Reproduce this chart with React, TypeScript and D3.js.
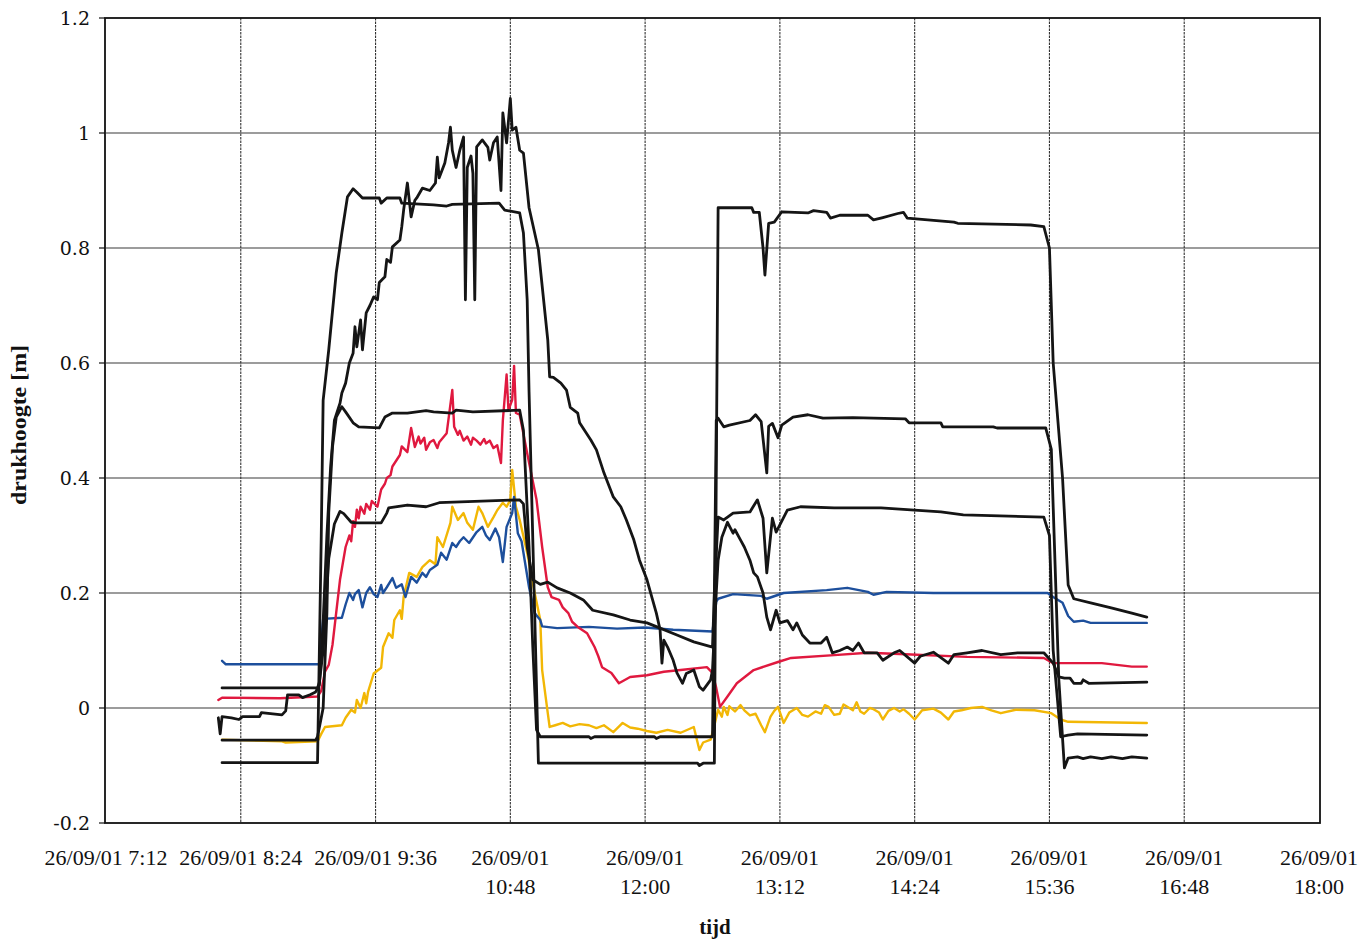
import * as d3 from 'd3';

type Pt = [string, number];

// x axis: one tick every 72 minutes
const tickTimes = ['7:12', '8:24', '9:36', '10:48', '12:00', '13:12', '14:24', '15:36', '16:48', '18:00'];
const tickDate = '26/09/01';
const yTicks = [-0.2, 0, 0.2, 0.4, 0.6, 0.8, 1, 1.2];

const blueSeries: Pt[] = [
  ['8:14', 0.082], ['8:16', 0.076], ['9:06', 0.076], ['9:08', 0.155], ['9:18', 0.157], ['9:20', 0.18],
  ['9:22', 0.2], ['9:24', 0.188], ['9:25', 0.198], ['9:27', 0.205], ['9:29', 0.175], ['9:31', 0.2], ['9:33', 0.21],
  ['9:35', 0.198], ['9:37', 0.193], ['9:39', 0.214], ['9:40', 0.2], ['9:42', 0.21], ['9:45', 0.226], ['9:47', 0.209],
  ['9:50', 0.215], ['9:52', 0.193], ['9:55', 0.228], ['9:58', 0.218], ['10:01', 0.235], ['10:03', 0.228],
  ['10:05', 0.24], ['10:09', 0.249], ['10:11', 0.27], ['10:14', 0.258], ['10:17', 0.287], ['10:19', 0.28],
  ['10:21', 0.29], ['10:23', 0.297], ['10:26', 0.287], ['10:30', 0.306], ['10:33', 0.315], ['10:35', 0.3],
  ['10:37', 0.292], ['10:40', 0.312], ['10:42', 0.297], ['10:44', 0.254], ['10:46', 0.315], ['10:49', 0.339],
  ['10:50', 0.367], ['10:52', 0.304], ['10:54', 0.29], ['10:58', 0.21], ['11:01', 0.165], ['11:04', 0.153],
  ['11:05', 0.142], ['11:13', 0.139], ['11:30', 0.141], ['11:45', 0.138], ['12:00', 0.14], ['12:15', 0.136],
  ['12:36', 0.133], ['12:38', 0.185], ['12:39', 0.19], ['12:47', 0.198], ['13:02', 0.195], ['13:05', 0.19],
  ['13:14', 0.2], ['13:37', 0.205], ['13:48', 0.209], ['13:59', 0.202], ['14:02', 0.197], ['14:09', 0.202],
  ['14:34', 0.2], ['15:35', 0.2], ['15:38', 0.193], ['15:43', 0.183], ['15:46', 0.16], ['15:49', 0.15],
  ['15:54', 0.152], ['15:58', 0.148], ['16:28', 0.148],
];

const redSeries: Pt[] = [
  ['8:12', 0.014], ['8:14', 0.018], ['8:45', 0.017], ['9:05', 0.02], ['9:07', 0.03], ['9:09', 0.063],
  ['9:11', 0.075], ['9:13', 0.11], ['9:17', 0.223], ['9:20', 0.28], ['9:22', 0.3], ['9:23', 0.29],
  ['9:24', 0.325], ['9:25', 0.315], ['9:26', 0.345], ['9:27', 0.33], ['9:28', 0.35], ['9:30', 0.338],
  ['9:31', 0.355], ['9:33', 0.345], ['9:34', 0.36], ['9:37', 0.35], ['9:39', 0.38], ['9:41', 0.39],
  ['9:42', 0.4], ['9:44', 0.405], ['9:45', 0.42], ['9:47', 0.43], ['9:49', 0.44], ['9:50', 0.455],
  ['9:53', 0.445], ['9:55', 0.487], ['9:57', 0.454], ['9:59', 0.472], ['10:00', 0.46], ['10:02', 0.47],
  ['10:03', 0.449], ['10:05', 0.462], ['10:07', 0.466], ['10:09', 0.452], ['10:10', 0.462], ['10:12', 0.47],
  ['10:14', 0.478], ['10:17', 0.553], ['10:18', 0.489], ['10:20', 0.475], ['10:21', 0.482], ['10:23', 0.465],
  ['10:25', 0.472], ['10:27', 0.458], ['10:28', 0.47], ['10:30', 0.465], ['10:32', 0.458], ['10:34', 0.468],
  ['10:35', 0.46], ['10:37', 0.465], ['10:39', 0.452], ['10:41', 0.457], ['10:43', 0.426], ['10:44', 0.5],
  ['10:46', 0.58], ['10:47', 0.518], ['10:49', 0.536], ['10:50', 0.595], ['10:51', 0.513], ['10:53', 0.51],
  ['10:57', 0.443], ['11:02', 0.362], ['11:05', 0.28], ['11:08', 0.21], ['11:10', 0.193], ['11:14', 0.188],
  ['11:16', 0.175], ['11:19', 0.165], ['11:21', 0.15], ['11:24', 0.141], ['11:29', 0.13], ['11:31', 0.118],
  ['11:33', 0.106], ['11:35', 0.09], ['11:37', 0.071], ['11:42', 0.061], ['11:46', 0.043], ['11:52', 0.054],
  ['12:01', 0.057], ['12:10', 0.063], ['12:19', 0.066], ['12:33', 0.071], ['12:36', 0.061], ['12:38', 0.035],
  ['12:40', 0.002], ['12:44', 0.02], ['12:49', 0.043], ['12:58', 0.066], ['13:11', 0.08], ['13:18', 0.087],
  ['13:41', 0.092], ['13:59', 0.096], ['14:16', 0.094], ['14:52', 0.089], ['15:33', 0.087], ['15:38', 0.078],
  ['16:04', 0.078], ['16:20', 0.072], ['16:28', 0.072],
];

const yellowSeries: Pt[] = [
  ['8:14', -0.055], ['8:46', -0.058], ['8:48', -0.06], ['9:05', -0.058], ['9:07', -0.045], ['9:09', -0.033],
  ['9:18', -0.03], ['9:20', -0.017], ['9:23', -0.003], ['9:25', -0.008], ['9:26', 0.014], ['9:28', 0.0],
  ['9:30', 0.026], ['9:31', 0.008], ['9:32', 0.028], ['9:35', 0.06], ['9:39', 0.07], ['9:40', 0.106],
  ['9:43', 0.13], ['9:45', 0.122], ['9:46', 0.153], ['9:49', 0.17], ['9:50', 0.155], ['9:51', 0.193],
  ['9:54', 0.235], ['9:58', 0.228], ['10:01', 0.245], ['10:05', 0.257], ['10:08', 0.25], ['10:09', 0.297],
  ['10:12', 0.28], ['10:16', 0.322], ['10:17', 0.35], ['10:20', 0.327], ['10:23', 0.339], ['10:25', 0.322],
  ['10:28', 0.31], ['10:31', 0.35], ['10:33', 0.339], ['10:36', 0.315], ['10:39', 0.332], ['10:41', 0.344],
  ['10:44', 0.357], ['10:46', 0.35], ['10:48', 0.362], ['10:49', 0.414], ['10:51', 0.35], ['10:53', 0.327],
  ['10:57', 0.27], ['11:01', 0.2], ['11:04', 0.153], ['11:05', 0.066], ['11:08', -0.009], ['11:09', -0.033],
  ['11:12', -0.03], ['11:16', -0.026], ['11:20', -0.032], ['11:25', -0.028], ['11:30', -0.03], ['11:34', -0.035],
  ['11:38', -0.03], ['11:43', -0.042], ['11:48', -0.026], ['11:52', -0.034], ['11:56', -0.036], ['12:01', -0.04],
  ['12:06', -0.043], ['12:12', -0.038], ['12:19', -0.043], ['12:26', -0.033], ['12:29', -0.073], ['12:31', -0.06],
  ['12:35', -0.055], ['12:37', -0.03], ['12:39', -0.003], ['12:41', -0.015], ['12:42', 0.002], ['12:44', -0.012],
  ['12:45', 0.003], ['12:48', -0.006], ['12:51', 0.005], ['12:53', -0.004], ['12:56', -0.013], ['12:59', -0.01],
  ['13:02', -0.03], ['13:04', -0.042], ['13:07', -0.015], ['13:09', -0.005], ['13:11', 0.002], ['13:14', -0.026],
  ['13:17', -0.008], ['13:21', 0.0], ['13:24', -0.012], ['13:27', -0.015], ['13:31', -0.006], ['13:34', -0.01],
  ['13:36', 0.005], ['13:38', 0.002], ['13:41', -0.012], ['13:44', -0.01], ['13:46', 0.006], ['13:48', 0.002],
  ['13:51', -0.004], ['13:53', 0.01], ['13:55', -0.006], ['13:57', -0.01], ['14:00', 0.0], ['14:02', -0.002],
  ['14:05', -0.008], ['14:07', -0.02], ['14:10', -0.005], ['14:13', 0.0], ['14:16', -0.006], ['14:18', -0.002],
  ['14:21', -0.01], ['14:24', -0.02], ['14:28', -0.004], ['14:34', -0.001], ['14:38', -0.008], ['14:42', -0.02],
  ['14:45', -0.006], ['14:49', -0.004], ['14:54', 0.0], ['15:00', 0.002], ['15:05', -0.004], ['15:10', -0.009],
  ['15:18', -0.003], ['15:28', -0.004], ['15:37', -0.009], ['15:42', -0.02], ['15:46', -0.024], ['16:28', -0.026],
];

const black1: Pt[] = [
  ['8:14', -0.095], ['9:05', -0.095], ['9:07', 0.3], ['9:08', 0.535], ['9:11', 0.623], ['9:15', 0.757],
  ['9:18', 0.826], ['9:21', 0.889], ['9:24', 0.903], ['9:26', 0.897], ['9:29', 0.887], ['9:38', 0.887],
  ['9:39', 0.878], ['9:42', 0.887], ['9:49', 0.887], ['9:50', 0.878], ['10:07', 0.875], ['10:14', 0.873],
  ['10:17', 0.876], ['10:42', 0.878], ['10:45', 0.866], ['10:53', 0.861], ['10:55', 0.826], ['10:57', 0.71],
  ['10:58', 0.55], ['11:01', 0.165], ['11:03', -0.096], ['12:28', -0.096], ['12:29', -0.1], ['12:31', -0.096],
  ['12:37', -0.096], ['12:38', 0.4], ['12:39', 0.87], ['12:57', 0.87], ['12:58', 0.862], ['13:01', 0.862],
  ['13:03', 0.8], ['13:04', 0.753], ['13:06', 0.843], ['13:09', 0.845], ['13:13', 0.863], ['13:27', 0.861],
  ['13:30', 0.865], ['13:37', 0.862], ['13:39', 0.852], ['13:44', 0.857], ['13:59', 0.857], ['14:02', 0.849],
  ['14:07', 0.853], ['14:15', 0.86], ['14:18', 0.862], ['14:20', 0.852], ['14:31', 0.849], ['14:45', 0.845],
  ['14:47', 0.843], ['15:26', 0.84], ['15:33', 0.837], ['15:36', 0.8], ['15:38', 0.6], ['15:43', 0.4],
  ['15:46', 0.214], ['15:49', 0.19], ['15:58', 0.183], ['16:09', 0.174], ['16:20', 0.165], ['16:28', 0.158],
];

const black2: Pt[] = [
  ['8:14', -0.056], ['9:04', -0.056], ['9:05', -0.05], ['9:08', 0.0], ['9:10', 0.165], ['9:11', 0.34],
  ['9:13', 0.454], ['9:15', 0.506], ['9:18', 0.524], ['9:20', 0.515], ['9:24', 0.496], ['9:27', 0.489],
  ['9:38', 0.487], ['9:41', 0.506], ['9:45', 0.513], ['9:53', 0.513], ['10:03', 0.517], ['10:07', 0.515],
  ['10:17', 0.513], ['10:19', 0.518], ['10:28', 0.515], ['10:53', 0.518], ['10:55', 0.483], ['10:58', 0.28],
  ['11:00', 0.106], ['11:02', -0.038], ['11:04', -0.05], ['11:30', -0.05], ['11:31', -0.053], ['11:33', -0.05],
  ['12:05', -0.05], ['12:06', -0.053], ['12:08', -0.05], ['12:36', -0.05], ['12:37', 0.2], ['12:38', 0.5],
  ['12:39', 0.504], ['12:42', 0.489], ['12:45', 0.492], ['12:56', 0.5], ['12:59', 0.51], ['13:02', 0.498],
  ['13:05', 0.409], ['13:06', 0.49], ['13:08', 0.495], ['13:11', 0.47], ['13:13', 0.492], ['13:19', 0.506],
  ['13:27', 0.51], ['13:35', 0.504], ['13:51', 0.505], ['14:19', 0.503], ['14:21', 0.496], ['14:38', 0.496],
  ['14:39', 0.489], ['15:06', 0.489], ['15:08', 0.487], ['15:34', 0.487], ['15:37', 0.45], ['15:39', 0.25],
  ['15:41', 0.05], ['15:44', -0.104], ['15:46', -0.087], ['15:51', -0.085], ['15:54', -0.088], ['15:58', -0.085],
  ['16:04', -0.088], ['16:09', -0.085], ['16:15', -0.088], ['16:20', -0.085], ['16:28', -0.087],
];

const black3: Pt[] = [
  ['8:14', 0.035], ['9:05', 0.035], ['9:06', 0.045], ['9:08', 0.1], ['9:09', 0.15], ['9:11', 0.26],
  ['9:14', 0.32], ['9:17', 0.342], ['9:19', 0.338], ['9:23', 0.323], ['9:26', 0.322], ['9:39', 0.322],
  ['9:42', 0.339], ['9:43', 0.348], ['9:53', 0.353], ['10:03', 0.35], ['10:10', 0.357], ['10:53', 0.362],
  ['10:55', 0.355], ['10:57', 0.28], ['11:00', 0.223], ['11:04', 0.215], ['11:08', 0.219], ['11:13', 0.209],
  ['11:20', 0.2], ['11:27', 0.188], ['11:32', 0.17], ['11:43', 0.162], ['11:52', 0.153], ['12:01', 0.148],
  ['12:08', 0.139], ['12:17', 0.127], ['12:26', 0.115], ['12:36', 0.106], ['12:37', 0.2], ['12:39', 0.332],
  ['12:42', 0.327], ['12:47', 0.339], ['12:56', 0.341], ['13:00', 0.362], ['13:03', 0.33], ['13:05', 0.235],
  ['13:08', 0.33], ['13:10', 0.306], ['13:16', 0.344], ['13:23', 0.35], ['13:41', 0.348], ['14:06', 0.348],
  ['14:20', 0.345], ['14:38', 0.341], ['14:50', 0.336], ['15:33', 0.332], ['15:36', 0.3], ['15:38', 0.1],
  ['15:42', -0.05], ['15:46', -0.047], ['15:51', -0.045], ['16:28', -0.047],
];

const black4: Pt[] = [
  ['8:12', -0.017], ['8:13', -0.045], ['8:14', -0.015], ['8:19', -0.017], ['8:23', -0.02], ['8:25', -0.015],
  ['8:34', -0.015], ['8:35', -0.008], ['8:46', -0.012], ['8:48', -0.005], ['8:49', 0.023], ['8:55', 0.023],
  ['8:57', 0.018], ['9:01', 0.023], ['9:04', 0.028], ['9:06', 0.04], ['9:08', 0.15], ['9:10', 0.3],
  ['9:12', 0.42], ['9:14', 0.5], ['9:17', 0.53], ['9:18', 0.548], ['9:20', 0.565], ['9:22', 0.6],
  ['9:24', 0.617], ['9:25', 0.663], ['9:26', 0.628], ['9:28', 0.675], ['9:29', 0.623], ['9:31', 0.687],
  ['9:33', 0.7], ['9:35', 0.715], ['9:37', 0.71], ['9:38', 0.74], ['9:41', 0.75], ['9:42', 0.78],
  ['9:44', 0.775], ['9:45', 0.802], ['9:49', 0.814], ['9:50', 0.837], ['9:51', 0.866], ['9:53', 0.913],
  ['9:55', 0.854], ['9:57', 0.883], ['9:58', 0.887], ['10:01', 0.904], ['10:05', 0.9], ['10:08', 0.913],
  ['10:09', 0.958], ['10:10', 0.922], ['10:13', 0.948], ['10:15', 0.983], ['10:16', 1.01], ['10:17', 0.97],
  ['10:19', 0.94], ['10:21', 0.97], ['10:23', 0.993], ['10:24', 0.71], ['10:25', 0.94], ['10:27', 0.96],
  ['10:28', 0.93], ['10:29', 0.71], ['10:30', 0.976], ['10:33', 0.988], ['10:36', 0.975], ['10:37', 0.953],
  ['10:39', 0.983], ['10:41', 0.993], ['10:43', 0.9], ['10:44', 1.035], ['10:46', 0.983], ['10:48', 1.06],
  ['10:49', 1.005], ['10:51', 1.01], ['10:53', 0.97], ['10:55', 0.965], ['10:58', 0.87], ['11:03', 0.797],
  ['11:08', 0.64], ['11:09', 0.576], ['11:11', 0.575], ['11:15', 0.565], ['11:18', 0.553], ['11:20', 0.523],
  ['11:24', 0.513], ['11:25', 0.496], ['11:31', 0.466], ['11:34', 0.449], ['11:38', 0.409], ['11:43', 0.367],
  ['11:47', 0.35], ['11:50', 0.327], ['11:54', 0.292], ['11:57', 0.257], ['12:01', 0.223], ['12:04', 0.188],
  ['12:06', 0.165], ['12:08', 0.136], ['12:09', 0.078], ['12:10', 0.118], ['12:12', 0.106], ['12:15', 0.083],
  ['12:17', 0.061], ['12:19', 0.049], ['12:20', 0.043], ['12:22', 0.06], ['12:26', 0.066], ['12:29', 0.037],
  ['12:31', 0.031], ['12:35', 0.049], ['12:36', 0.066], ['12:38', 0.2], ['12:39', 0.257], ['12:41', 0.297],
  ['12:44', 0.323], ['12:47', 0.304], ['12:48', 0.31], ['12:51', 0.292], ['12:53', 0.28], ['12:56', 0.257],
  ['12:58', 0.235], ['13:00', 0.228], ['13:03', 0.2], ['13:05', 0.158], ['13:07', 0.136], ['13:10', 0.17],
  ['13:12', 0.148], ['13:16', 0.152], ['13:19', 0.136], ['13:21', 0.148], ['13:24', 0.127], ['13:28', 0.113],
  ['13:34', 0.113], ['13:37', 0.123], ['13:40', 0.096], ['13:44', 0.1], ['13:48', 0.106], ['13:51', 0.1],
  ['13:54', 0.113], ['13:57', 0.096], ['14:04', 0.096], ['14:07', 0.083], ['14:13', 0.096], ['14:16', 0.1],
  ['14:24', 0.078], ['14:27', 0.09], ['14:34', 0.097], ['14:42', 0.078], ['14:45', 0.093], ['14:52', 0.096],
  ['15:00', 0.1], ['15:10', 0.093], ['15:19', 0.096], ['15:33', 0.096], ['15:38', 0.078], ['15:41', 0.054],
  ['15:44', 0.052], ['15:47', 0.052], ['15:49', 0.043], ['15:53', 0.043], ['15:54', 0.049], ['15:57', 0.043],
  ['16:28', 0.045],
];

// drawn in this order: coloured sensors first, black ones on top
const seriesList = [
  { data: yellowSeries, color: '#f2b705', width: 2.4 },
  { data: blueSeries, color: '#1d4f9c', width: 2.4 },
  { data: redSeries, color: '#e0193f', width: 2.4 },
  { data: black4, color: '#151515', width: 2.8 },
  { data: black3, color: '#151515', width: 2.8 },
  { data: black2, color: '#151515', width: 2.8 },
  { data: black1, color: '#151515', width: 2.8 },
];

export default function App() {
  const width = 1364;
  const height = 940;
  const parse = d3.timeParse('%H:%M');
  const left = 106;
  const right = 1319;
  const top = 18;
  const bottom = 823;

  const x = d3.scaleTime().domain([parse('7:12')!, parse('18:00')!]).range([left, right]);
  const y = d3.scaleLinear().domain([-0.2, 1.2]).range([bottom, top]);
  const line = d3
    .line<Pt>()
    .x(d => x(parse(d[0])!))
    .y(d => y(d[1]));

  const serif = '"Liberation Serif", "Times New Roman", serif';

  return (
    <svg
      width={width}
      height={height}
      style={{ position: 'absolute', left: 0, top: 0, background: '#ffffff' }}
    >
      {/* gridlines */}
      {yTicks.slice(1, -1).map(v => (
        <line key={'h' + v} x1={left} x2={right} y1={y(v)} y2={y(v)} stroke="#3a3a3a" strokeWidth={1.1} />
      ))}
      {tickTimes.slice(1, -1).map(t => (
        <line
          key={'v' + t}
          x1={x(parse(t)!)}
          x2={x(parse(t)!)}
          y1={top}
          y2={bottom}
          stroke="#333"
          strokeWidth={1.1}
          strokeDasharray="2.5,1"
        />
      ))}

      {/* series */}
      {seriesList.map((s, i) => (
        <path
          key={i}
          d={line(s.data) ?? ''}
          fill="none"
          stroke={s.color}
          strokeWidth={s.width}
          strokeLinejoin="round"
          strokeLinecap="round"
        />
      ))}

      {/* frame */}
      <rect x={left - 1} y={top} width={right - left + 2} height={bottom - top} fill="none" stroke="#111" strokeWidth={1.8} />

      {/* y axis */}
      {yTicks.map(v => (
        <g key={'yt' + v}>
          <line x1={left - 7} x2={left - 1} y1={y(v)} y2={y(v)} stroke="#111" strokeWidth={1.2} />
          <text
            x={left - 16}
            y={y(v)}
            dy="0.35em"
            textAnchor="end"
            fontFamily='"DejaVu Serif", serif'
            fontSize={19}
            fill="#111"
          >
            {String(+v.toFixed(1))}
          </text>
        </g>
      ))}
      <text
        transform={`translate(19, 425) rotate(-90)`}
        textAnchor="middle"
        dy="0.35em"
        fontFamily={serif}
        fontWeight="bold"
        fontSize={20}
        textLength={160}
        lengthAdjust="spacingAndGlyphs"
        fill="#111"
      >
        drukhoogte [m]
      </text>

      {/* x axis */}
      {tickTimes.map((t, i) => {
        const cx = x(parse(t)!);
        if (i < 3) {
          return (
            <text key={'xt' + t} x={cx} y={865} textAnchor="middle" fontFamily={serif} fontSize={22} fill="#111">
              {`${tickDate} ${t}`}
            </text>
          );
        }
        return (
          <text key={'xt' + t} x={cx} y={865} textAnchor="middle" fontFamily={serif} fontSize={22} fill="#111">
            <tspan x={cx}>{tickDate}</tspan>
            <tspan x={cx} y={894}>{t}</tspan>
          </text>
        );
      })}
      <text x={715} y={934} textAnchor="middle" fontFamily={serif} fontWeight="bold" fontSize={21} fill="#111">
        tijd
      </text>
    </svg>
  );
}
